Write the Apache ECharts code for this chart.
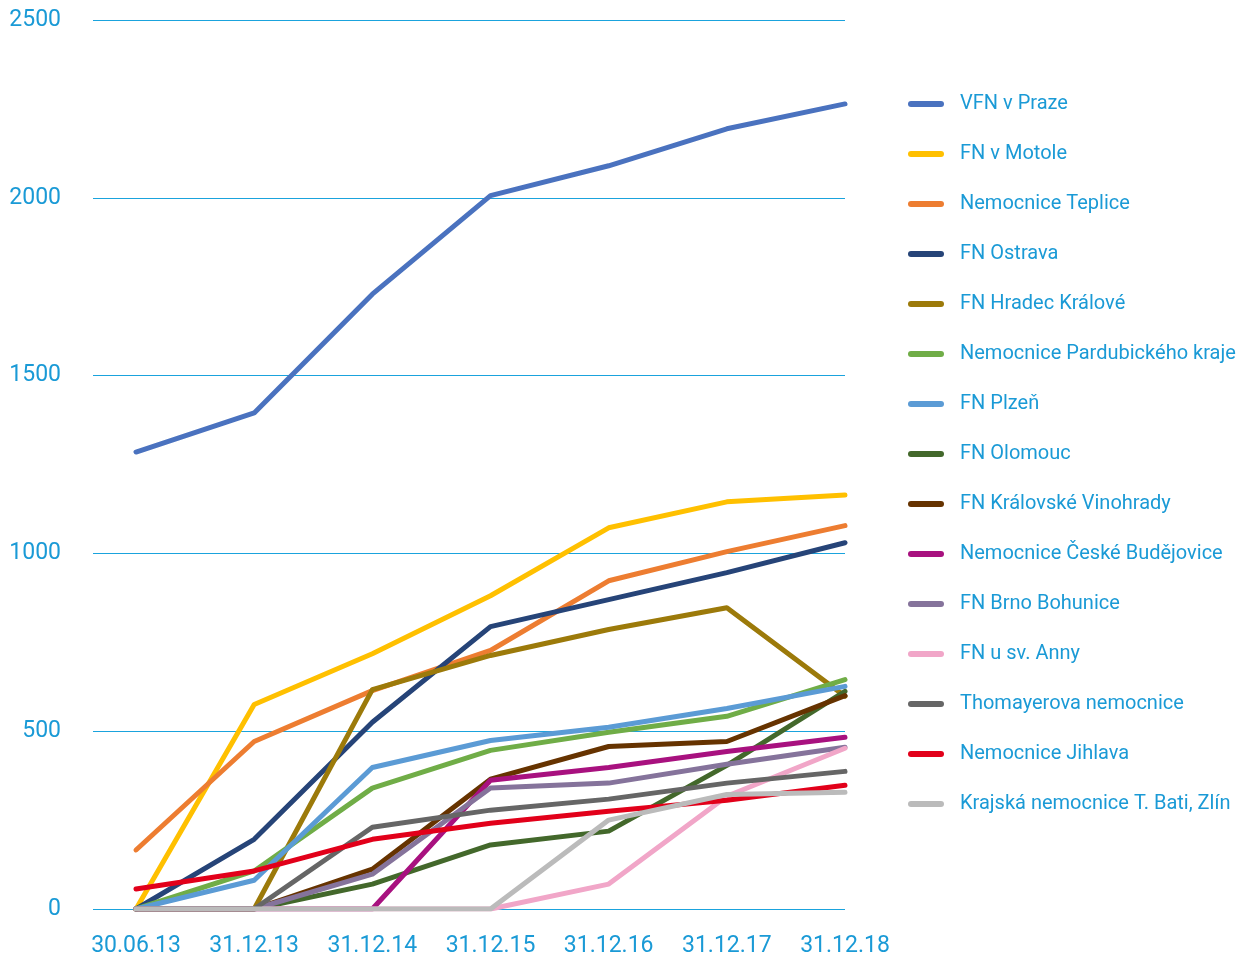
<!DOCTYPE html>
<html><head><meta charset="utf-8">
<script src="https://cdn.jsdelivr.net/npm/echarts@6/dist/echarts.min.js"></script>
<style>html,body{margin:0;padding:0;background:#fff}#c{width:1240px;height:958px}</style>
</head><body><div id="c"></div>
<script>
const categories = ['30.06.13','31.12.13','31.12.14','31.12.15','31.12.16','31.12.17','31.12.18'];
const names = ['VFN v Praze','FN v Motole','Nemocnice Teplice','FN Ostrava','FN Hradec Králové','Nemocnice Pardubického kraje','FN Plzeň','FN Olomouc','FN Královské Vinohrady','Nemocnice České Budějovice','FN Brno Bohunice','FN u sv. Anny','Thomayerova nemocnice','Nemocnice Jihlava','Krajská nemocnice T. Bati, Zlín'];
const colors = ['#4a72bf','#ffc000','#ed7d31','#264478','#9c7a0a','#70ad47','#5b9bd5','#43682b','#663300','#a8117f','#85739b','#f1a6c8','#666666','#e2001a','#bbbbbb'];
const vfn = [1285,1395,1729,2006,2090,2194,2264];
const motol = [0,575,718,881,1072,1145,1164];
const teplice = [166,471,614,727,923,1005,1078];
const ostrava = [0,196,525,794,870,946,1030];
const hradec = [0,0,617,713,786,847,598];
const pardubice = [0,107,340,446,497,542,645];
const plzen = [0,81,398,474,511,564,626];
const olomouc = [0,0,70,180,219,404,612];
const vinohrady = [0,0,112,365,457,471,600];
const budejovice = [0,0,0,362,398,443,483];
const brno = [0,0,98,340,354,407,455];
const anny = [0,0,0,0,70,317,452];
const thomayer = [0,0,230,278,309,354,387];
const jihlava = [56,107,196,241,275,306,348];
const zlin = [0,0,0,0,250,322,328];
const allData = [vfn,motol,teplice,ostrava,hradec,pardubice,plzen,olomouc,vinohrady,budejovice,brno,anny,thomayer,jihlava,zlin];

const FONT = '"Roboto",sans-serif';
const TXT = '#1a9ad6';
const chart = echarts.init(document.getElementById('c'), null, {renderer:'canvas'});
chart.setOption({
  animation:false,
  backgroundColor:'#fff',
  grid:{left:93,right:395,top:20,bottom:47,containLabel:false},
  legend:{
    orient:'vertical', left:908, top:94, padding:0, itemGap:30, itemWidth:36, itemHeight:6,
    icon:'path://M3,0 H33 A3,3 0 0 1 33,6 H3 A3,3 0 0 1 3,0 Z',
    textStyle:{color:TXT, fontFamily:FONT, fontSize:20, lineHeight:20, padding:[0,0,0,11]},
    data:names
  },
  xAxis:{
    type:'value', min:-0.364, max:6,
    axisLine:{show:false}, axisTick:{show:false}, splitLine:{show:false},
    axisLabel:{customValues:categories.map((c,i)=>i), formatter:v=>categories[Math.round(v)],
      color:TXT, fontFamily:FONT, fontSize:23, margin:26}
  },
  yAxis:{
    type:'value', min:0, max:2500, interval:500,
    axisLine:{show:false}, axisTick:{show:false},
    splitLine:{lineStyle:{color:'#1aa3dd', width:1}},
    axisLabel:{color:TXT, fontFamily:FONT, fontSize:23, margin:32, padding:[0,0,4,0], formatter:v=>String(v)}
  },
  series: names.map((n,k)=>({
    name:n, type:'line', showSymbol:false, symbol:'none',
    data: allData[k].map((v,i)=>[i,v]),
    itemStyle:{color:colors[k]},
    lineStyle:{color:colors[k], width:5, cap:'round', join:'round'}
  }))
});
</script></body></html>
